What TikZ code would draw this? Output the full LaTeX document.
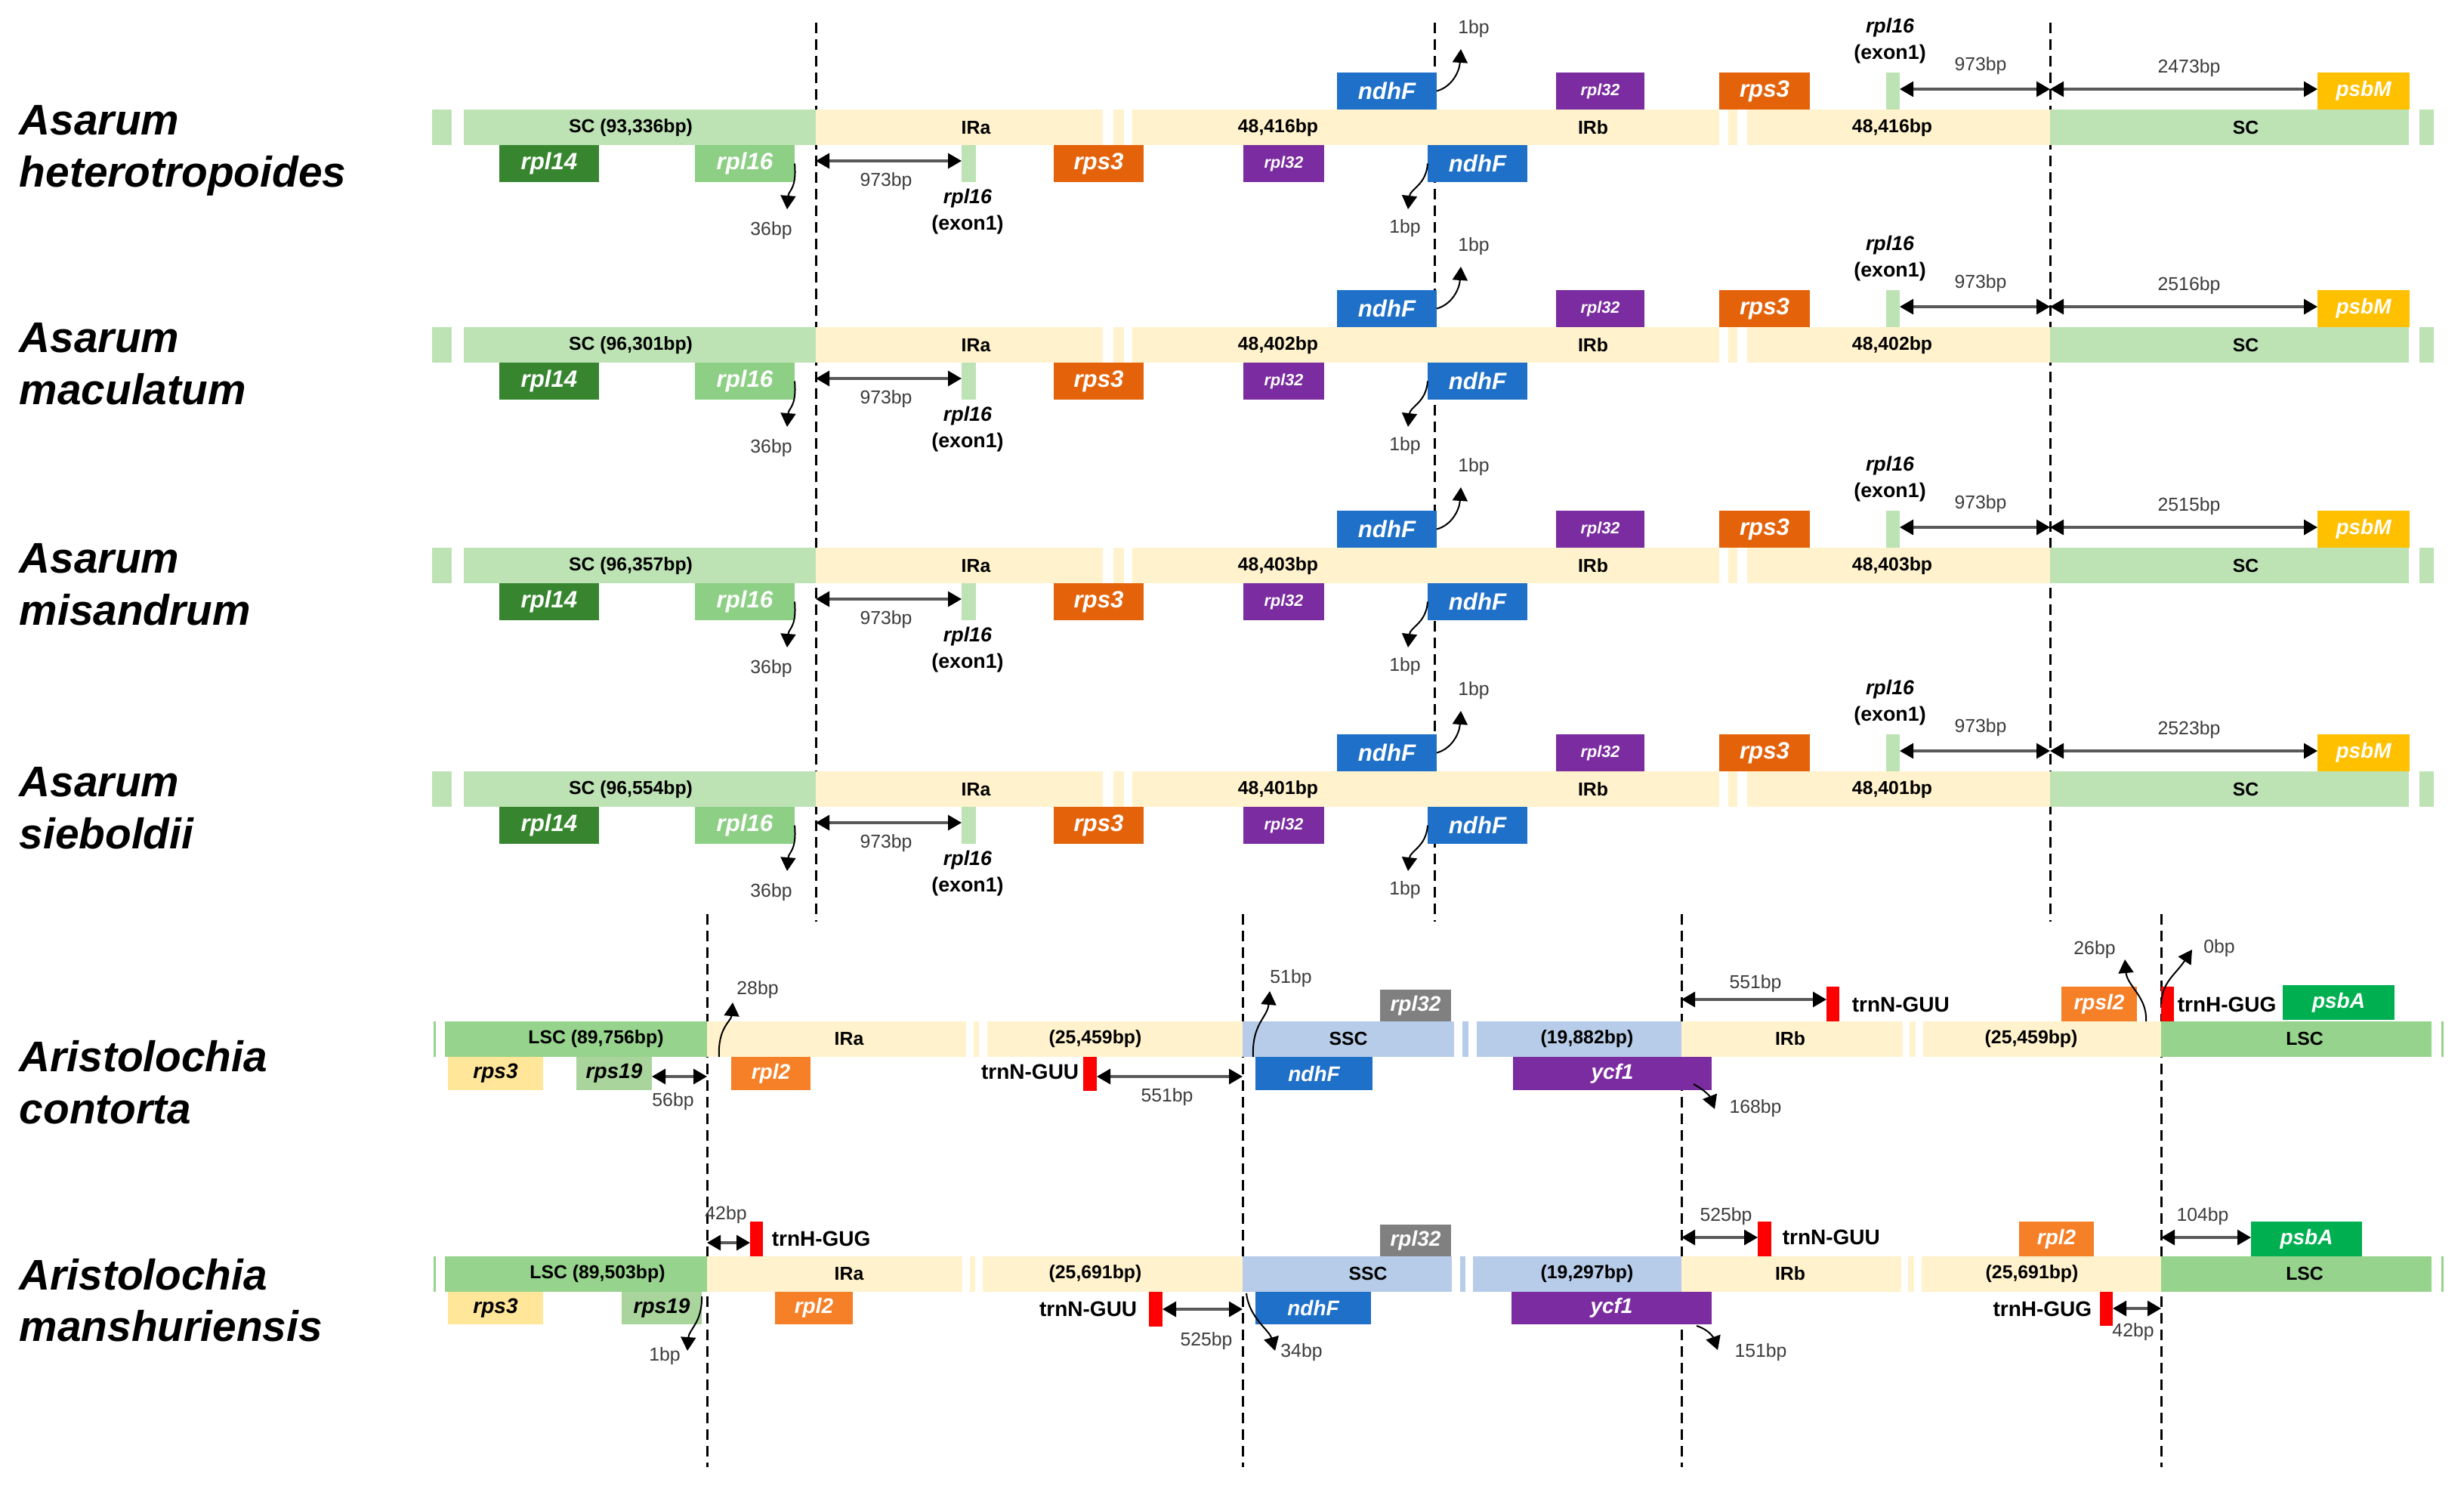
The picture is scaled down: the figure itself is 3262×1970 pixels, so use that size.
\documentclass[tikz,border=0pt]{standalone}
\usepackage{fontspec}
\setmainfont{Liberation Sans}
\usetikzlibrary{arrows.meta}
\definecolor{csc}{RGB}{189,227,181}
\definecolor{cir}{RGB}{255,242,204}
\definecolor{clsc}{RGB}{150,211,140}
\definecolor{cssc}{RGB}{182,204,232}
\definecolor{crplf}{RGB}{55,134,47}
\definecolor{crpls}{RGB}{141,207,133}
\definecolor{crps}{RGB}{228,98,10}
\definecolor{cpurp}{RGB}{122,44,160}
\definecolor{cndh}{RGB}{30,112,200}
\definecolor{cpsbm}{RGB}{255,192,0}
\definecolor{crpltwo}{RGB}{246,128,40}
\definecolor{cpaley}{RGB}{255,230,153}
\definecolor{crpsnt}{RGB}{169,212,156}
\definecolor{cgrey}{RGB}{128,128,128}
\definecolor{cpsba}{RGB}{0,176,80}
\definecolor{cred}{RGB}{255,0,0}
\definecolor{cbp}{RGB}{60,60,60}
\tikzset{
 box/.style={inner sep=0pt,outer sep=0pt},
 gt/.style={text=white,font=\fontsize{7.8}{9}\selectfont\bfseries\itshape},
 gs/.style={text=white,font=\fontsize{5.4}{6}\selectfont\bfseries\itshape},
 gp/.style={text=white,font=\fontsize{7}{8}\selectfont\bfseries\itshape},
 gk/.style={text=black,font=\fontsize{7}{8}\selectfont\bfseries\itshape},
 species/.style={anchor=base west,inner sep=0pt,font=\fontsize{14.2}{17}\selectfont\bfseries\itshape},
 reg/.style={inner sep=0pt,font=\fontsize{6.2}{7}\selectfont\bfseries},
 bp/.style={inner sep=0pt,text=cbp,font=\fontsize{6.2}{7}\selectfont},
 exo/.style={inner sep=0pt,font=\fontsize{6.7}{8}\selectfont\bfseries},
 exoi/.style={inner sep=0pt,font=\fontsize{6.7}{8}\selectfont\bfseries\itshape},
 trn/.style={inner sep=0pt,font=\fontsize{7}{8}\selectfont\bfseries},
 dashline/.style={line width=0.75pt,dash pattern=on 3.5pt off 2pt},
 dbl/.style={line width=0.8pt,draw=black!65,{Triangle[length=4.5pt,width=5pt,color=black]}-{Triangle[length=4.5pt,width=5pt,color=black]}},
 carrow/.style={line width=0.5pt,-{Triangle[length=4.5pt,width=5pt]}},
}
\newcommand\gbox[7]{\node[box,#2,minimum width={(#5-#3)*0.25pt},minimum height={(#6-#4)*0.25pt}] (#1) at ({(#3+#5)/2},{(#4+#6)/2}) {#7};}
\newcommand\asarumrow[5]{%
 \node[species] (spa#1) at (25,178) {Asarum};
 \node[species] (spb#1) at (25,247) {#2};
 \gbox{bara#1}{fill=csc}{572}{145}{598}{192}{}
 \gbox{barb#1}{fill=csc}{614}{145}{1080}{192}{}
 \gbox{barc#1}{fill=cir}{1080}{145}{1460}{192}{}
 \gbox{bard#1}{fill=cir}{1474}{145}{1488}{192}{}
 \gbox{bare#1}{fill=cir}{1499}{145}{2276}{192}{}
 \gbox{barf#1}{fill=cir}{2288}{145}{2300}{192}{}
 \gbox{barg#1}{fill=cir}{2313}{145}{2714}{192}{}
 \gbox{barh#1}{fill=csc}{2714}{145}{3189}{192}{}
 \gbox{bari#1}{fill=csc}{3203}{145}{3222}{192}{}
 \node[reg] (tsc#1) at (835,169) {SC (#3)};
 \node[reg] (tira#1) at (1292,169) {IRa};
 \node[reg] (tirl#1) at (1692,169) {#4};
 \node[reg] (tirb#1) at (2109,169) {IRb};
 \node[reg] (tirr#1) at (2505,169) {#4};
 \node[reg] (tscr#1) at (2973,169) {SC};
 \gbox{rpla#1}{fill=crplf,gt}{661}{192}{793}{241}{rpl14}
 \gbox{rplb#1}{fill=crpls,gt}{920}{192}{1052}{241}{rpl16}
 \gbox{exa#1}{fill=csc}{1273}{192}{1292}{241}{}
 \gbox{rpsa#1}{fill=crps,gt}{1395}{192}{1514}{241}{rps3}
 \gbox{rplc#1}{fill=cpurp,gs}{1646}{192}{1753}{241}{rpl32}
 \gbox{ndha#1}{fill=cndh,gt}{1890}{192}{2022}{241}{ndhF}
 \gbox{ndhb#1}{fill=cndh,gt}{1770}{96}{1902}{145}{ndhF}
 \gbox{rpld#1}{fill=cpurp,gs}{2060}{96}{2177}{145}{rpl32}
 \gbox{rpsb#1}{fill=crps,gt}{2276}{96}{2396}{145}{rps3}
 \gbox{exb#1}{fill=csc}{2497}{96}{2515}{145}{}
 \gbox{psbm#1}{fill=cpsbm,gp}{3068}{96}{3190}{145}{psbM}
 \coordinate (qa#1) at (1042,277);
 \draw[carrow] (rplb#1.east) .. controls (1055,250) and (1044,252) .. (qa#1);
 \node[bp] (lta#1) at (1021,305) {36bp};
 \coordinate (da#1) at (1080,213);
 \draw[dbl] (da#1) -- (da#1 -| exa#1.west);
 \node[bp] (ltb#1) at (1173,240) {973bp};
 \node[exoi] (eia#1) at (1281,263) {rpl16};
 \node[exo] (eib#1) at (1281,298) {(exon1)};
 \coordinate (qb#1) at (1864,277);
 \draw[carrow] (ndha#1.west) .. controls (1888,245) and (1867,250) .. (qb#1);
 \node[bp] (ltc#1) at (1860,302) {1bp};
 \coordinate (qc#1) at (1934,65);
 \draw[carrow] (ndhb#1.east) .. controls (1922,115) and (1932,95) .. (qc#1);
 \node[bp] (ltd#1) at (1951,38) {1bp};
 \node[exoi] (eic#1) at (2502,37) {rpl16};
 \node[exo] (eid#1) at (2502,72) {(exon1)};
 \coordinate (dc#1) at (2714,118);
 \draw[dbl] (exb#1.east |- dc#1) -- (dc#1);
 \node[bp] (lte#1) at (2622,87) {973bp};
 \draw[dbl] (dc#1) -- (dc#1 -| psbm#1.west);
 \node[bp] (ltf#1) at (2898,90) {#5};
}
\begin{document}
\begin{tikzpicture}[x=0.25pt,y=-0.25pt]
\useasboundingbox (0,0) rectangle (3262,1970);
\fill[white] (0,0) rectangle (3262,1970);
% dashed boundary lines
\coordinate (dat) at (1080,30); \coordinate (dab) at (1080,1220);
\coordinate (dbt) at (1899,30); \coordinate (dbb) at (1899,1220);
\coordinate (dct) at (2714,30); \coordinate (dcb) at (2714,1220);
\draw[dashline] (dat) -- (dab);
\draw[dashline] (dbt) -- (dbb);
\draw[dashline] (dct) -- (dcb);
\coordinate (xat) at (936,1210); \coordinate (xab) at (936,1942);
\coordinate (xbt) at (1645,1210); \coordinate (xbb) at (1645,1942);
\coordinate (xct) at (2226,1210); \coordinate (xcb) at (2226,1942);
\coordinate (xdt) at (2861,1210); \coordinate (xdb) at (2861,1942);
\draw[dashline] (xat) -- (xab);
\draw[dashline] (xbt) -- (xbb);
\draw[dashline] (xct) -- (xcb);
\draw[dashline] (xdt) -- (xdb);
% Asarum rows
\asarumrow{1}{heterotropoides}{93,336bp}{48,416bp}{2473bp}
\begin{scope}[yshift=-72pt]
\asarumrow{2}{maculatum}{96,301bp}{48,402bp}{2516bp}
\end{scope}
\begin{scope}[yshift=-145pt]
\asarumrow{3}{misandrum}{96,357bp}{48,403bp}{2515bp}
\end{scope}
\begin{scope}[yshift=-219pt]
\asarumrow{4}{sieboldii}{96,554bp}{48,401bp}{2523bp}
\end{scope}
% ---------- Aristolochia contorta ----------
\node[species] (spc1) at (25,1418) {Aristolochia};
\node[species] (spc2) at (25,1487) {contorta};
\gbox{ca0}{fill=clsc}{574}{1352}{577}{1399}{}
\gbox{ca1}{fill=clsc}{589}{1352}{936}{1399}{}
\gbox{ca2}{fill=cir}{936}{1352}{1279}{1399}{}
\gbox{ca3}{fill=cir}{1289}{1352}{1296}{1399}{}
\gbox{ca4}{fill=cir}{1307}{1352}{1645}{1399}{}
\gbox{ca5}{fill=cssc}{1645}{1352}{1925}{1399}{}
\gbox{ca6}{fill=cssc}{1936}{1352}{1944}{1399}{}
\gbox{ca7}{fill=cssc}{1955}{1352}{2226}{1399}{}
\gbox{ca8}{fill=cir}{2226}{1352}{2519}{1399}{}
\gbox{ca9}{fill=cir}{2528}{1352}{2536}{1399}{}
\gbox{ca10}{fill=cir}{2546}{1352}{2861}{1399}{}
\gbox{ca11}{fill=clsc}{2861}{1352}{3219}{1399}{}
\gbox{ca12}{fill=clsc}{3232}{1352}{3235}{1399}{}
\node[reg] (cl1) at (789,1375) {LSC (89,756bp)};
\node[reg] (cl2) at (1124,1375) {IRa};
\node[reg] (cl3) at (1450,1375) {(25,459bp)};
\node[reg] (cl4) at (1785,1375) {SSC};
\node[reg] (cl5) at (2101,1375) {(19,882bp)};
\node[reg] (cl6) at (2370,1375) {IRb};
\node[reg] (cl7) at (2689,1375) {(25,459bp)};
\node[reg] (cl8) at (3051,1375) {LSC};
\gbox{cg1}{fill=cpaley,gk}{593}{1399}{719}{1443}{rps3}
\gbox{cg2}{fill=crpsnt,gk}{763}{1399}{863}{1443}{rps19}
\gbox{cg3}{fill=crpltwo,gp}{968}{1399}{1073}{1443}{rpl2}
\gbox{cr1}{fill=cred}{1434}{1399}{1452}{1444}{}
\gbox{cg4}{fill=cndh,gp}{1662}{1399}{1817}{1443}{ndhF}
\gbox{cg5}{fill=cpurp,gp}{2003}{1399}{2266}{1443}{ycf1}
\gbox{cg6}{fill=cgrey,gp}{1827}{1310}{1921}{1352}{rpl32}
\gbox{cr2}{fill=cred}{2418}{1306}{2435}{1352}{}
\gbox{cg7}{fill=crpltwo,gp}{2729}{1306}{2829}{1352}{rpsl2}
\gbox{cr3}{fill=cred}{2861}{1306}{2878}{1352}{}
\gbox{cg8}{fill=cpsba,gp}{3022}{1304}{3170}{1350}{psbA}
\node[trn,anchor=east] (ct1) at (1429,1419) {trnN-GUU};
\node[trn,anchor=west] (ct2) at (2451,1330) {trnN-GUU};
\node[trn,anchor=west] (ct3) at (2882,1330) {trnH-GUG};
% arrows contorta
\coordinate (ca56) at (936,1425);
\draw[dbl] (ca56 -| cg2.east) -- (ca56);
\node[bp] (cb1) at (891,1458) {56bp};
\coordinate (cs28) at (952,1399); \coordinate (ce28) at (970,1327);
\draw[carrow] (cs28) .. controls (950,1360) and (968,1352) .. (ce28);
\node[bp] (cb2) at (1003,1310) {28bp};
\coordinate (ca551) at (1645,1425);
\draw[dbl] (ca551 -| cr1.east) -- (ca551);
\node[bp] (cb3) at (1545,1452) {551bp};
\coordinate (cs51) at (1659,1399); \coordinate (ce51) at (1681,1312);
\draw[carrow] (cs51) .. controls (1657,1355) and (1678,1347) .. (ce51);
\node[bp] (cb4) at (1709,1295) {51bp};
\coordinate (cs168) at (2242,1435); \coordinate (ce168) at (2270,1468);
\draw[carrow] (cs168) .. controls (2255,1442) and (2263,1450) .. (ce168);
\node[bp] (cb5) at (2324,1467) {168bp};
\coordinate (cb551) at (2226,1323);
\draw[dbl] (cb551) -- (cb551 -| cr2.west);
\node[bp] (cb6) at (2324,1302) {551bp};
\coordinate (cs26) at (2841,1352); \coordinate (ce26) at (2813,1270);
\draw[carrow] (cs26) .. controls (2843,1320) and (2816,1305) .. (ce26);
\node[bp] (cb7) at (2773,1257) {26bp};
\coordinate (ce0) at (2902,1257);
\draw[carrow] (cr3.west) .. controls (2862,1300) and (2880,1290) .. (ce0);
\node[bp] (cb8) at (2938,1255) {0bp};
% ---------- Aristolochia manshuriensis ----------
\node[species] (spd1) at (25,1707) {Aristolochia};
\node[species] (spd2) at (25,1775) {manshuriensis};
\gbox{ma0}{fill=clsc}{574}{1663}{577}{1710}{}
\gbox{ma1}{fill=clsc}{589}{1663}{936}{1710}{}
\gbox{ma2}{fill=cir}{936}{1663}{1274}{1710}{}
\gbox{ma3}{fill=cir}{1284}{1663}{1291}{1710}{}
\gbox{ma4}{fill=cir}{1301}{1663}{1645}{1710}{}
\gbox{ma5}{fill=cssc}{1645}{1663}{1922}{1710}{}
\gbox{ma6}{fill=cssc}{1933}{1663}{1940}{1710}{}
\gbox{ma7}{fill=cssc}{1950}{1663}{2226}{1710}{}
\gbox{ma8}{fill=cir}{2226}{1663}{2517}{1710}{}
\gbox{ma9}{fill=cir}{2526}{1663}{2534}{1710}{}
\gbox{ma10}{fill=cir}{2544}{1663}{2861}{1710}{}
\gbox{ma11}{fill=clsc}{2861}{1663}{3219}{1710}{}
\gbox{ma12}{fill=clsc}{3232}{1663}{3235}{1710}{}
\node[reg] (ml1) at (791,1686) {LSC (89,503bp)};
\node[reg] (ml2) at (1124,1686) {IRa};
\node[reg] (ml3) at (1450,1686) {(25,691bp)};
\node[reg] (ml4) at (1811,1686) {SSC};
\node[reg] (ml5) at (2101,1686) {(19,297bp)};
\node[reg] (ml6) at (2370,1686) {IRb};
\node[reg] (ml7) at (2690,1686) {(25,691bp)};
\node[reg] (ml8) at (3051,1686) {LSC};
\gbox{mg1}{fill=cpaley,gk}{593}{1710}{719}{1753}{rps3}
\gbox{mg2}{fill=crpsnt,gk}{823}{1710}{929}{1753}{rps19}
\gbox{mg3}{fill=crpltwo,gp}{1026}{1710}{1129}{1753}{rpl2}
\gbox{mr1}{fill=cred}{1521}{1710}{1539}{1756}{}
\gbox{mg4}{fill=cndh,gp}{1662}{1710}{1815}{1753}{ndhF}
\gbox{mg5}{fill=cpurp,gp}{2001}{1710}{2266}{1753}{ycf1}
\gbox{mr2}{fill=cred}{2780}{1710}{2797}{1755}{}
\gbox{mr3}{fill=cred}{993}{1617}{1010}{1663}{}
\gbox{mg6}{fill=cgrey,gp}{1827}{1621}{1921}{1663}{rpl32}
\gbox{mr4}{fill=cred}{2327}{1617}{2345}{1663}{}
\gbox{mg7}{fill=crpltwo,gp}{2673}{1617}{2772}{1663}{rpl2}
\gbox{mg8}{fill=cpsba,gp}{2980}{1617}{3127}{1663}{psbA}
\node[trn,anchor=west] (mt1) at (1021,1640) {trnH-GUG};
\node[trn,anchor=east] (mt2) at (1506,1733) {trnN-GUU};
\node[trn,anchor=west] (mt3) at (2359,1638) {trnN-GUU};
\node[trn,anchor=east] (mt4) at (2770,1733) {trnH-GUG};
% arrows manshuriensis
\coordinate (me1) at (910,1788);
\draw[carrow] (mg2.north east) ++(0,6) .. controls (930,1750) and (912,1760) .. (me1);
\node[bp] (mb1) at (880,1795) {1bp};
\coordinate (ma42) at (936,1645);
\draw[dbl] (ma42) -- (ma42 -| mr3.west);
\node[bp] (mb2) at (961,1608) {42bp};
\coordinate (ma525) at (1645,1733);
\draw[dbl] (ma525 -| mr1.east) -- (ma525);
\node[bp] (mb3) at (1597,1775) {525bp};
\coordinate (ms34) at (1650,1712); \coordinate (me34) at (1688,1788);
\draw[carrow] (ms34) .. controls (1654,1745) and (1680,1760) .. (me34);
\node[bp] (mb4) at (1723,1790) {34bp};
\coordinate (ms151) at (2246,1755); \coordinate (me151) at (2274,1787);
\draw[carrow] (ms151) .. controls (2262,1760) and (2268,1770) .. (me151);
\node[bp] (mb5) at (2331,1790) {151bp};
\coordinate (mb525) at (2226,1638);
\draw[dbl] (mb525) -- (mb525 -| mr4.west);
\node[bp] (mb6) at (2285,1610) {525bp};
\coordinate (mc42) at (2861,1732);
\draw[dbl] (mc42 -| mr2.east) -- (mc42);
\node[bp] (mb7) at (2824,1763) {42bp};
\coordinate (md104) at (2861,1638);
\draw[dbl] (md104) -- (md104 -| mg8.west);
\node[bp] (mb8) at (2916,1610) {104bp};
\end{tikzpicture}
\end{document}
